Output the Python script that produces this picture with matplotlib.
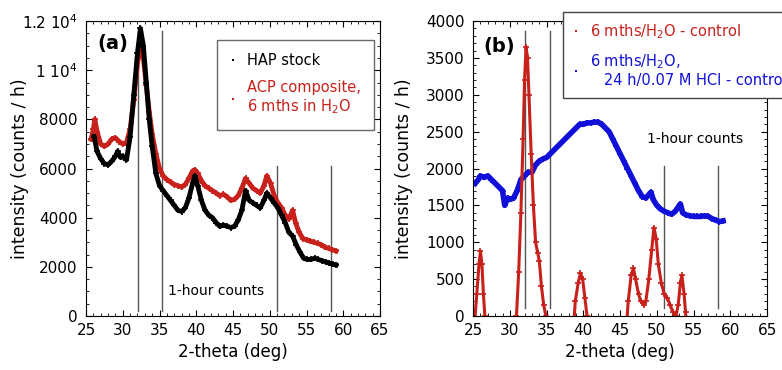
import matplotlib
matplotlib.use('Agg')
import matplotlib.pyplot as plt
from matplotlib.ticker import MultipleLocator, FixedLocator, FixedFormatter

plt.rcParams['font.family'] = ['DejaVu Sans']
plt.rcParams['mathtext.fontset'] = 'dejavusans'

# ---- panel (a): HAP stock vs ACP composite ----
hap_x = [26.1, 26.5, 27.0, 27.5, 28.0, 28.5, 29.0, 29.3, 29.7, 30.0, 30.5, 31.0, 31.5,
         32.0, 32.4, 32.8, 33.2, 33.6, 34.0, 34.5, 35.0, 35.5, 36.0, 36.5, 37.0, 37.5,
         38.0, 38.5, 39.0, 39.5, 39.8, 40.2, 40.7, 41.2, 41.7, 42.2, 42.7, 43.2, 43.7,
         44.2, 44.7, 45.2, 45.7, 46.2, 46.7, 47.2, 47.7, 48.2, 48.7, 49.2, 49.6, 50.1,
         50.6, 51.1, 51.6, 52.1, 52.6, 53.1, 53.6, 54.1, 54.6, 55.1, 55.6, 56.1, 56.6,
         57.1, 57.6, 58.1, 58.6, 59.0]
hap_y = [7300, 6700, 6400, 6200, 6150, 6300, 6500, 6700, 6450, 6500, 6350, 7300, 9000,
         10700, 11700, 11000, 9500, 8000, 6900, 5800, 5300, 5100, 4900, 4700, 4500, 4300,
         4250, 4400, 4800, 5400, 5700, 5300, 4700, 4300, 4100, 4000, 3800, 3650, 3700,
         3650, 3600, 3650, 3900, 4300, 5100, 4700, 4600, 4500, 4400, 4700, 5000, 4800,
         4600, 4400, 4100, 3800, 3400, 3250, 2900, 2600, 2350, 2300, 2300, 2350, 2300,
         2250, 2200, 2150, 2100, 2080]

acp_x = [25.7, 26.0, 26.2, 26.5, 27.0, 27.5, 28.0, 28.5, 29.0, 29.5, 30.0, 30.5, 31.0,
         31.5, 32.0, 32.4, 32.8, 33.2, 33.6, 34.0, 34.5, 35.0, 35.5, 36.0, 36.5, 37.0,
         37.5, 38.0, 38.5, 39.0, 39.5, 39.8, 40.2, 40.7, 41.2, 41.7, 42.2, 42.7, 43.2,
         43.7, 44.2, 44.7, 45.2, 45.7, 46.2, 46.7, 47.2, 47.7, 48.2, 48.7, 49.2, 49.6,
         50.1, 50.6, 51.1, 51.6, 52.1, 52.6, 53.1, 53.5, 54.0, 54.5, 55.0, 55.5, 56.0,
         56.5, 57.0, 57.5, 58.0, 58.5, 59.0]
acp_y = [7200, 7600, 8000, 7500, 7000, 6900, 7000, 7200, 7250, 7100, 7000, 7050, 7600,
         8800, 10300, 10900, 10500, 9400, 8300, 7400, 6600, 6000, 5700, 5550, 5450, 5350,
         5300, 5250, 5350, 5600, 5900, 5950, 5800, 5500, 5300, 5200, 5100, 5000, 4900,
         4950, 4850, 4700, 4750, 4900, 5200, 5600, 5400, 5200, 5100, 5000, 5300, 5700,
         5400, 4900, 4600, 4400, 4100, 3950, 4300, 3800, 3400, 3150, 3100, 3050, 3000,
         2950, 2900, 2800, 2750, 2700, 2650]

# ---- panel (b): controls ----
ctrl_x = [25.2, 25.5, 25.8, 26.0, 26.2, 26.4, 26.6, 26.9, 30.7, 30.9, 31.2, 31.5, 31.8,
          32.0, 32.2, 32.4, 32.6, 32.9, 33.2, 33.5, 33.8, 34.0, 34.3, 34.6, 34.9, 35.2,
          38.5, 38.9, 39.3, 39.6, 39.9, 40.2, 40.5, 40.9, 45.7, 46.1, 46.5, 46.8, 47.1,
          47.5, 47.8, 48.2, 48.5, 48.9, 49.3, 49.6, 49.9, 50.2, 50.6, 51.0, 51.4, 51.8,
          52.2, 52.6, 52.9, 53.2, 53.4, 53.7, 53.9, 54.2]
ctrl_y = [-100, 300, 700, 880, 700, 300, 0, -400, -400, 0, 600, 1400, 2400,
          3200, 3650, 3500, 3000, 2200, 1500, 1000, 850, 750, 400, 150, 0, -400,
          -400, 200, 450, 580, 500, 250, 0, -400, -400, 200, 550, 650, 500,
          300, 200, 150, 200, 500, 900, 1200, 1050, 700, 450, 300, 250, 150,
          50, 0, 150, 450, 550, 300, 50, -400]

hcl_x = [25.3, 25.7, 26.0, 26.5, 27.0, 27.5, 28.0, 28.5, 29.0, 29.3, 29.7, 30.0, 30.5,
         31.0, 31.5, 32.0, 32.5, 33.0, 33.5, 34.0, 34.5, 35.0, 35.5, 36.0, 36.5, 37.0,
         37.5, 38.0, 38.5, 39.0, 39.5, 40.0, 40.5, 41.0, 41.5, 42.0, 42.5, 43.0, 43.5,
         44.0, 44.5, 45.0, 45.5, 46.0, 46.5, 47.0, 47.5, 48.0, 48.5, 49.2, 49.5, 50.0,
         50.5, 51.0, 51.5, 52.0, 52.5, 53.2, 53.5, 54.0, 54.5, 55.0, 55.5, 56.0, 56.5,
         57.0, 57.5, 58.0, 58.5, 59.0]
hcl_y = [1800, 1850, 1900, 1880, 1900, 1850, 1800, 1750, 1700, 1500, 1600, 1580, 1600,
         1700, 1850, 1900, 1950, 1950, 2050, 2100, 2130, 2150, 2200, 2250, 2300, 2350,
         2400, 2450, 2500, 2550, 2600, 2600, 2620, 2620, 2630, 2630, 2600, 2550, 2500,
         2400, 2300, 2200, 2100, 2000, 1900, 1800, 1700, 1620, 1600, 1680, 1580, 1500,
         1450, 1420, 1400, 1380, 1420, 1520, 1400, 1370, 1360, 1350, 1350, 1350, 1360,
         1350, 1320, 1300, 1280, 1290]

# reference lines (2-theta), with their vertical extents
vlines_x = [32.1, 35.4, 51.0, 58.3]
vlines_a_top = [11600, 11600, 6100, 6100]
vlines_b_top = [3860, 3860, 2040, 2040]

RED = '#c8201a'
BLUE = '#1010d8'


def style_axes(ax, label_x):
    ax.set_xlim(25, 65)
    ax.xaxis.set_major_locator(MultipleLocator(5))
    ax.xaxis.set_minor_locator(MultipleLocator(1))
    ax.tick_params(which='both', direction='in', top=True, right=True, labelsize=11)
    ax.tick_params(axis='y', which='major', pad=6)
    ax.tick_params(axis='x', which='major', pad=5)
    ax.tick_params(which='major', length=4)
    ax.tick_params(which='minor', length=2)
    ax.set_xlabel('2-theta (deg)', fontsize=12)
    ax.set_ylabel('intensity (counts / h)', fontsize=12.5)
    ax.yaxis.set_label_coords(label_x, 0.5)


def main():
    fig = plt.figure(figsize=(7.82, 3.70), dpi=100)
    ax1 = fig.add_axes([0.110, 0.146, 0.376, 0.797])
    ax2 = fig.add_axes([0.605, 0.146, 0.376, 0.797])

    # (a)
    for x, top in zip(vlines_x, vlines_a_top):
        ax1.plot([x, x], [200, top], color='#555555', lw=1)
    ax1.plot(acp_x, acp_y, color=RED, lw=3.5, marker='+', ms=5, mew=1.2,
             label='ACP composite,\n6 mths in H$_2$O')
    ax1.plot(hap_x, hap_y, color='black', lw=3.5, marker='+', ms=5, mew=1.2,
             label='HAP stock')
    style_axes(ax1, -0.195)
    ax1.set_ylim(0, 12000)
    ax1.yaxis.set_major_locator(FixedLocator([0, 2000, 4000, 6000, 8000, 10000, 12000]))
    ax1.yaxis.set_major_formatter(FixedFormatter(
        ['0', '2000', '4000', '6000', '8000', '1 10$^4$', '1.2 10$^4$']))
    ax1.yaxis.set_minor_locator(MultipleLocator(500))
    ax1.text(26.5, 11100, '(a)', fontsize=14, fontweight='bold', va='center')
    ax1.text(36.2, 1000, '1-hour counts', fontsize=10, va='center')
    h, l = ax1.get_legend_handles_labels()
    leg = ax1.legend([h[1], h[0]], [l[1], l[0]], loc='upper left',
                     bbox_to_anchor=(0.42, 0.96), fontsize=10.5, frameon=True,
                     fancybox=False, edgecolor='#444444', handlelength=0.4,
                     handletextpad=0.8, markerscale=0.35, borderpad=0.9,
                     labelspacing=0.8)
    for line in leg.get_lines():
        line.set_linestyle('none')
    for txt, c in zip(leg.get_texts(), ['black', RED]):
        txt.set_color(c)

    # (b)
    for x, top in zip(vlines_x, vlines_b_top):
        ax2.plot([x, x], [110, top], color='#555555', lw=1)
    ax2.plot(hcl_x, hcl_y, color=BLUE, lw=4, marker='+', ms=5, mew=1.2,
             label='6 mths/H$_2$O,\n   24 h/0.07 M HCl - control')
    ax2.plot(ctrl_x, ctrl_y, color=RED, lw=2.2, marker='+', ms=5, mew=1.2,
             label='6 mths/H$_2$O - control')
    style_axes(ax2, -0.205)
    ax2.set_ylim(0, 4000)
    ax2.yaxis.set_major_locator(MultipleLocator(500))
    ax2.yaxis.set_minor_locator(MultipleLocator(100))
    ax2.text(26.4, 3650, '(b)', fontsize=14, fontweight='bold', va='center')
    ax2.text(48.7, 2400, '1-hour counts', fontsize=10, va='center')
    h2, l2 = ax2.get_legend_handles_labels()
    leg2 = ax2.legend([h2[1], h2[0]], [l2[1], l2[0]], loc='upper left',
                      bbox_to_anchor=(0.28, 1.055), fontsize=10.5,
                      frameon=True, fancybox=False, edgecolor='#444444',
                      handlelength=0.4, handletextpad=0.8, markerscale=0.35,
                      borderpad=0.7, labelspacing=0.75, framealpha=1)
    for line in leg2.get_lines():
        line.set_linestyle('none')
    for txt, c in zip(leg2.get_texts(), [RED, BLUE]):
        txt.set_color(c)

    fig.savefig('out.png', dpi=100)


if __name__ == '__main__':
    main()
